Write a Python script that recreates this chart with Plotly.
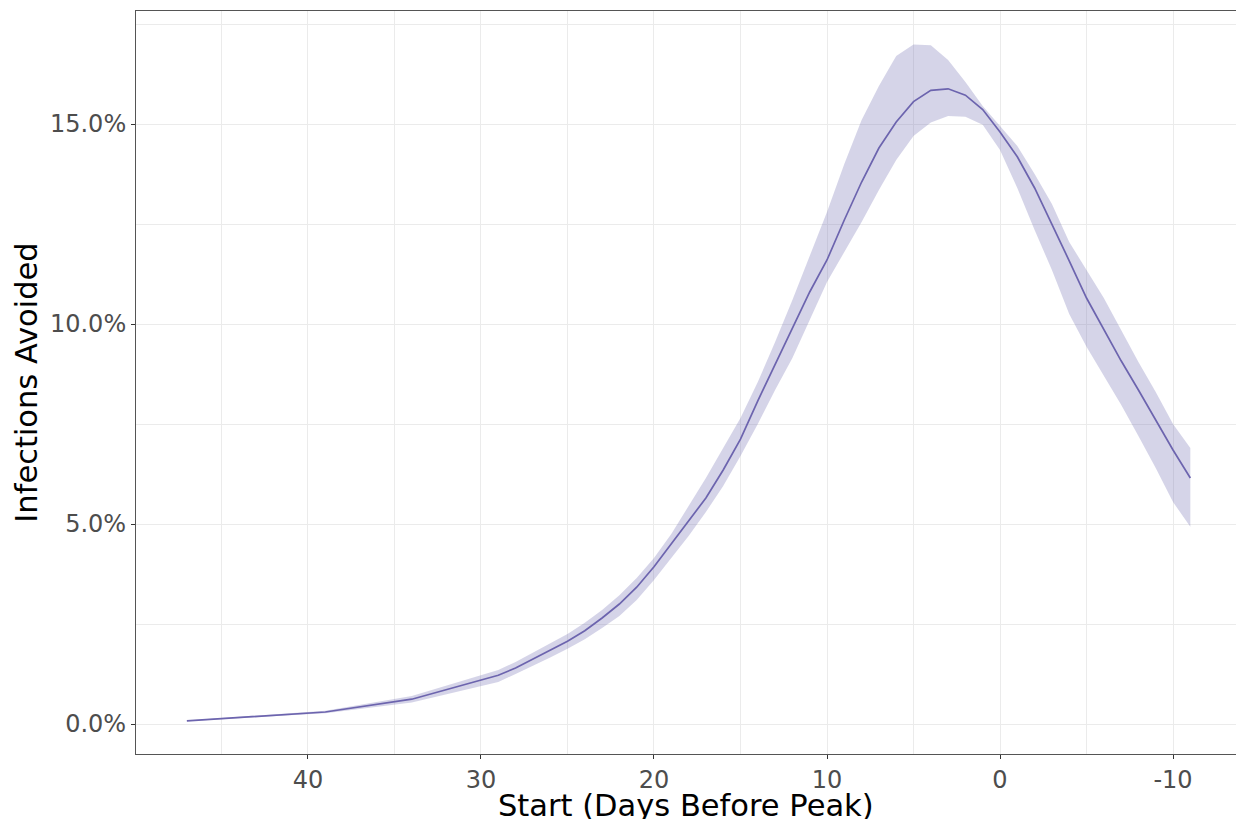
import plotly.graph_objects as go

# Start day (days before peak)
days = [47, 39, 34, 29, 28, 27, 26, 25, 24, 23, 22, 21, 20, 19, 18, 17, 16, 15,
        14, 13, 12, 11, 10, 9, 8, 7, 6, 5, 4, 3, 2, 1, 0, -1, -2, -3, -4, -5,
        -6, -7, -8, -9, -10, -11]

# Infections avoided (%) - central estimate
avoided = [0.08, 0.30, 0.62, 1.22, 1.40, 1.62, 1.83, 2.07, 2.33, 2.65, 3.00, 3.42,
           3.93, 4.50, 5.10, 5.65, 6.35, 7.12, 8.08, 9.00, 9.90, 10.80, 11.60,
           12.60, 13.55, 14.40, 15.05, 15.56, 15.84, 15.88, 15.72, 15.36, 14.80,
           14.18, 13.40, 12.50, 11.58, 10.65, 9.85, 9.08, 8.35, 7.60, 6.85, 6.15]

# Upper and lower bounds (%)
upper = [0.09, 0.33, 0.70, 1.35, 1.55, 1.78, 2.02, 2.25, 2.53, 2.85, 3.22, 3.65,
         4.15, 4.75, 5.45, 6.15, 6.90, 7.65, 8.55, 9.55, 10.60, 11.70, 12.80,
         14.00, 15.10, 15.95, 16.70, 16.99, 16.97, 16.60, 16.05, 15.45, 14.95,
         14.45, 13.75, 13.00, 12.05, 11.35, 10.65, 9.85, 9.05, 8.30, 7.50, 6.90]

lower = [0.07, 0.27, 0.54, 1.05, 1.25, 1.45, 1.66, 1.88, 2.12, 2.40, 2.70, 3.10,
         3.60, 4.15, 4.70, 5.30, 5.95, 6.70, 7.50, 8.35, 9.15, 10.10, 11.05,
         11.80, 12.55, 13.35, 14.10, 14.70, 15.04, 15.20, 15.18, 14.98, 14.35,
         13.40, 12.35, 11.35, 10.25, 9.43, 8.70, 7.98, 7.20, 6.40, 5.55, 4.93]

x_ticks = [40, 30, 20, 10, 0, -10]
y_ticks = [0, 5, 10, 15]
y_tick_labels = ["0.0%", "5.0%", "10.0%", "15.0%"]
x_title = "Start (Days Before Peak)"
y_title = "Infections Avoided"

LINE = "#6c64ae"
FILL = "rgba(117,112,179,0.30)"
FONT = "DejaVu Sans"

fig = go.Figure()
fig.add_trace(go.Scatter(x=days, y=upper, mode="lines", line=dict(width=0),
                         hoverinfo="skip", showlegend=False))
fig.add_trace(go.Scatter(x=days, y=lower, mode="lines", line=dict(width=0),
                         fill="tonexty", fillcolor=FILL,
                         hoverinfo="skip", showlegend=False))
fig.add_trace(go.Scatter(x=days, y=avoided, mode="lines",
                         line=dict(color=LINE, width=1.7), showlegend=False))

fig.update_layout(
    width=1236, height=819,
    margin=dict(l=136, r=0, t=11, b=65),
    paper_bgcolor="white", plot_bgcolor="white",
    font=dict(family=FONT, color="#4d4d4d"),
    showlegend=False,
)

fig.update_xaxes(
    range=[49.94, -13.64],
    tickvals=x_ticks, ticktext=[str(v) for v in x_ticks],
    ticks="outside", ticklen=4, tickwidth=1.2, tickcolor="#333333",
    tickfont=dict(size=24, color="#4d4d4d", family=FONT),
    showgrid=True, gridcolor="#ebebeb", gridwidth=1.2,
    minor=dict(dtick=10, tick0=5, showgrid=True, gridcolor="#ebebeb", gridwidth=0.6, ticks=""),
    showline=True, linecolor="#555555", linewidth=1, mirror=True,
    zeroline=False, automargin=False,
)
fig.update_yaxes(
    range=[-0.75, 17.825],
    tickvals=y_ticks, ticktext=y_tick_labels,
    ticks="outside", ticklen=4, tickwidth=1.2, tickcolor="#333333",
    tickfont=dict(size=24, color="#4d4d4d", family=FONT),
    showgrid=True, gridcolor="#ebebeb", gridwidth=1.2,
    minor=dict(dtick=5, tick0=2.5, showgrid=True, gridcolor="#ebebeb", gridwidth=0.6, ticks=""),
    showline=True, linecolor="#555555", linewidth=1, mirror=False,
    zeroline=False, automargin=False,
    title=dict(text=y_title, font=dict(size=30.5, color="black", family=FONT),
               standoff=3),
)

fig.add_annotation(
    text=x_title, xref="paper", yref="paper", x=0.5, y=0,
    xanchor="center", yanchor="middle", yshift=-51, showarrow=False,
    font=dict(size=30.5, color="black", family=FONT),
)

fig.write_html(
    "out.html",
    config={"displayModeBar": False},
    post_script="document.body.style.margin='0';document.body.style.overflow='hidden';",
)
